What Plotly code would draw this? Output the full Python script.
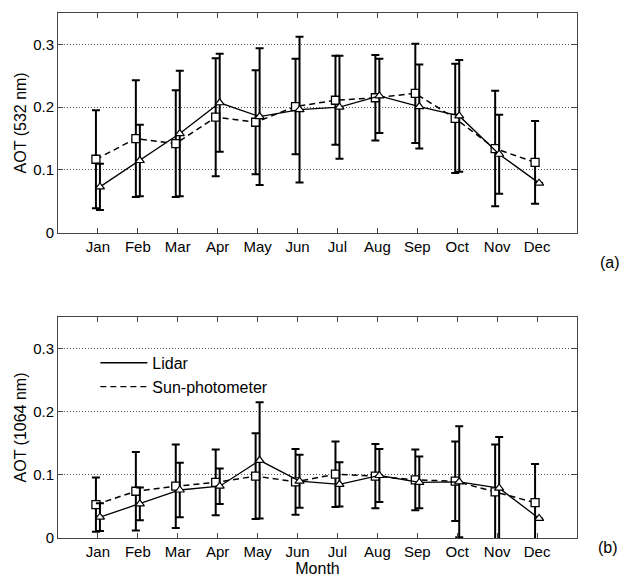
import plotly.graph_objects as go

months = ["Jan", "Feb", "Mar", "Apr", "May", "Jun", "Jul", "Aug", "Sep", "Oct", "Nov", "Dec"]

# Panel (a): AOT at 532 nm
lidar_532 = [0.073, 0.115, 0.158, 0.207, 0.185, 0.196, 0.200, 0.218, 0.201, 0.186, 0.125, 0.079]
lidar_532_err = [0.037, 0.057, 0.100, 0.078, 0.109, 0.116, 0.082, 0.059, 0.067, 0.089, 0.063, 0.0]
sun_532 = [0.117, 0.150, 0.142, 0.184, 0.176, 0.201, 0.211, 0.215, 0.222, 0.182, 0.134, 0.112]
sun_532_err = [0.078, 0.093, 0.085, 0.094, 0.083, 0.076, 0.071, 0.068, 0.079, 0.087, 0.092, 0.066]

# Panel (b): AOT at 1064 nm
lidar_1064 = [0.033, 0.054, 0.076, 0.082, 0.123, 0.090, 0.085, 0.099, 0.088, 0.089, 0.079, 0.031]
lidar_1064_err = [0.022, 0.026, 0.043, 0.028, 0.092, 0.042, 0.035, 0.042, 0.041, 0.088, 0.081, 0.0]
sun_1064 = [0.053, 0.074, 0.082, 0.088, 0.098, 0.089, 0.101, 0.098, 0.092, 0.090, 0.073, 0.056]
sun_1064_err = [0.043, 0.062, 0.066, 0.052, 0.068, 0.052, 0.052, 0.051, 0.048, 0.063, 0.075, 0.061]

month_idx = list(range(1, 13))
x_sun = [m - 0.05 for m in month_idx]
x_lid = [m + 0.05 for m in month_idx]

FONT = "Liberation Sans, Arial, Helvetica, sans-serif"
fig = go.Figure()


def add_pair(lid, lid_err, sun, sun_err, xa, ya):
    fig.add_trace(go.Scatter(
        x=x_sun, y=sun, xaxis=xa, yaxis=ya, mode="lines+markers", showlegend=False,
        line=dict(color="black", width=1.5, dash="6px,4px"),
        marker=dict(symbol="square", size=8, color="white", line=dict(color="black", width=1.3)),
        error_y=dict(type="data", array=sun_err, visible=True, color="black", thickness=2, width=4),
    ))
    fig.add_trace(go.Scatter(
        x=x_lid, y=lid, xaxis=xa, yaxis=ya, mode="lines+markers", showlegend=False,
        line=dict(color="black", width=1.3),
        marker=dict(symbol="triangle-up", size=8, color="white", line=dict(color="black", width=1.2)),
        error_y=dict(type="data", array=lid_err, visible=True, color="black", thickness=2, width=4),
    ))


add_pair(lidar_532, lidar_532_err, sun_532, sun_532_err, "x", "y")
add_pair(lidar_1064, lidar_1064_err, sun_1064, sun_1064_err, "x2", "y2")

# legend entries (lines only)
fig.add_trace(go.Scatter(x=[None], y=[None], xaxis="x2", yaxis="y2", mode="lines", name="Lidar",
                         line=dict(color="black", width=1.3)))
fig.add_trace(go.Scatter(x=[None], y=[None], xaxis="x2", yaxis="y2", mode="lines", name="Sun-photometer",
                         line=dict(color="black", width=1.3, dash="6px,4px")))

xcommon = dict(range=[0, 13], tickvals=month_idx, ticktext=months, ticks="inside", ticklen=5,
               tickcolor="#444", showline=True, linecolor="#444", linewidth=1, mirror="ticks",
               showgrid=False, zeroline=False, automargin=False,
               tickfont=dict(size=15, color="black", family=FONT))
ycommon = dict(range=[0, 0.35], tickvals=[0, 0.1, 0.2, 0.3], ticktext=["0", "0.1", "0.2", "0.3"],
               ticks="inside", ticklen=5, tickcolor="#444", showline=True, linecolor="#444", linewidth=1,
               mirror="ticks", showgrid=True, gridcolor="#555", gridwidth=1, griddash="1px,2px",
               zeroline=False, automargin=False,
               tickfont=dict(size=15, color="black", family=FONT))

fig.update_layout(
    width=622, height=569,
    margin=dict(l=50, r=53, t=5, b=39),
    paper_bgcolor="white", plot_bgcolor="white",
    font=dict(family=FONT, size=15, color="black"),
    xaxis=dict(**xcommon, anchor="y", domain=[0, 1]),
    yaxis=dict(**ycommon, anchor="x", domain=[0.5815, 1],
               title=dict(text="AOT (532 nm)", font=dict(size=16), standoff=2)),
    xaxis2=dict(**xcommon, anchor="y2", domain=[0, 1],
                title=dict(text="Month", font=dict(size=16), standoff=0)),
    yaxis2=dict(**ycommon, anchor="x2", domain=[0, 0.421],
                title=dict(text="AOT (1064 nm)", font=dict(size=16), standoff=2)),
    legend=dict(x=0.072, y=0.366, xanchor="left", yanchor="top", bgcolor="rgba(0,0,0,0)",
                borderwidth=0, font=dict(size=16, family=FONT), itemwidth=47),
    annotations=[
        dict(text="(a)", x=1.0636, y=0.5257, xref="paper", yref="paper", showarrow=False,
             xanchor="center", yanchor="middle", font=dict(size=16)),
        dict(text="(b)", x=1.06, y=-0.019, xref="paper", yref="paper", showarrow=False,
             xanchor="center", yanchor="middle", font=dict(size=16)),
    ],
)

fig.write_html("out.html")
